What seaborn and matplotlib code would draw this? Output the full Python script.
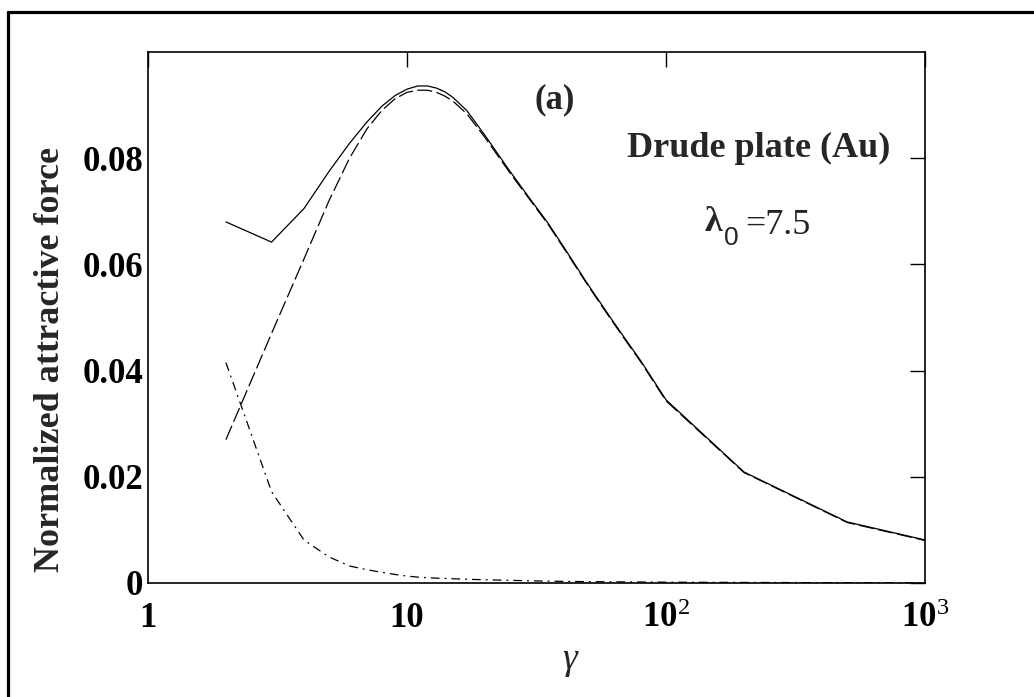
import numpy as np
import pandas as pd
import seaborn as sns
from matplotlib import pyplot as plt
from matplotlib.lines import Line2D

# values
gamma = [2, 3, 4, 5, 6, 7, 8, 9, 10, 11, 12, 13, 14, 15, 17, 20, 25, 30, 35, 40,
         50, 60, 70, 80, 100, 200, 500, 1000]
total_force = [0.0680, 0.0642, 0.0705, 0.0775, 0.0828, 0.0868, 0.0898, 0.0918, 0.0930, 0.0936,
               0.0936, 0.0932, 0.0925, 0.0915, 0.0890, 0.0843, 0.0775, 0.0722, 0.0678, 0.0635,
               0.0562, 0.0505, 0.0458, 0.0418, 0.0345, 0.0209, 0.0115, 0.0081]
dashed_force = [0.0270, 0.0470, 0.0610, 0.0720, 0.0800, 0.0855, 0.0890, 0.0912, 0.0924, 0.0928,
                0.0928, 0.0924, 0.0917, 0.0908, 0.0884, 0.0839, 0.0772, 0.0720, 0.0676, 0.0633,
                0.0560, 0.0503, 0.0456, 0.0416, 0.0343, 0.0208, 0.0114, 0.0080]
dashdot_force = [0.0415, 0.0172, 0.0081, 0.0049, 0.0032, 0.0025, 0.0020, 0.0016, 0.0013, 0.0011,
                 0.0010, 0.0009, 0.00085, 0.0008, 0.0007, 0.0006, 0.0005, 0.0004, 0.00035, 0.0003,
                 0.00025, 0.00022, 0.0002, 0.00018, 0.00015, 0.0001, 0.00005, 0.00003]

yticks = [0, 0.02, 0.04, 0.06, 0.08]
ytick_labels = ['0', '0.02', '0.04', '0.06', '0.08']
xticks = [1, 10, 100, 1000]
xtick_labels = ['1', '10', r'$\mathbf{10}^{\mathrm{2}}$', r'$\mathbf{10}^{\mathrm{3}}$']

df = pd.DataFrame({'gamma': gamma, 'total': total_force,
                   'dashed': dashed_force, 'dashdot': dashdot_force})

sns.set_style('white')
plt.rcParams['font.family'] = ['Liberation Serif', 'DejaVu Serif']
plt.rcParams['mathtext.fontset'] = 'custom'
plt.rcParams['mathtext.rm'] = 'Liberation Serif'
plt.rcParams['mathtext.bf'] = 'Liberation Serif:bold'
plt.rcParams['mathtext.it'] = 'Liberation Serif:italic'

fig = plt.figure(figsize=(10.34, 6.97), dpi=100)
ax = fig.add_axes([0.1431, 0.1636, 0.7515, 0.7618])

sns.lineplot(data=df, x='gamma', y='total', color='black', lw=0.9, ax=ax)
sns.lineplot(data=df, x='gamma', y='dashed', color='black', lw=0.9, ax=ax)
ax.lines[-1].set_dashes((12, 3.5))
sns.lineplot(data=df, x='gamma', y='dashdot', color='black', lw=0.9, ax=ax)
ax.lines[-1].set_dashes((7, 4, 1.5, 4))

ax.set_xscale('log')
ax.set_xlim(1, 1000)
ax.set_ylim(0, 0.1)
ax.set_xticks(xticks)
ax.set_xticklabels(xtick_labels)
ax.xaxis.set_minor_locator(plt.NullLocator())
ax.set_yticks(yticks)
ax.set_yticklabels(ytick_labels)

for s in ax.spines.values():
    s.set_visible(True)
    s.set_color('black')
    s.set_linewidth(1.2)

ax.tick_params(axis='both', direction='in', length=10.8, width=1, colors='black',
               top=True, right=True, labelsize=25)
ax.tick_params(axis='x', pad=14)
ax.tick_params(axis='y', pad=3.5)
for lab in ax.get_xticklabels() + ax.get_yticklabels():
    lab.set_fontweight('bold')

ax.set_ylabel('Normalized attractive force', fontsize=26, fontweight='bold', va='center')
ax.yaxis.set_label_coords(-0.126, 0.42)
ax.set_xlabel('γ', fontsize=27, fontstyle='italic', va='top')
ax.xaxis.set_label_coords(0.543, -0.113)

tr = ax.transAxes
ax.text(0.524, 0.91, '(a)', transform=tr, fontsize=25, fontweight='bold', ha='center', va='center')
ax.text(0.786, 0.819, 'Drude plate (Au)', transform=tr, fontsize=26, fontweight='bold',
        ha='center', va='center')
ax.text(0.728, 0.678, 'λ', transform=tr, fontsize=26, fontweight='bold', ha='center', va='center')
ax.text(0.751, 0.650, '0', transform=tr, fontsize=19, family='Liberation Sans',
        ha='center', va='center')
ax.text(0.811, 0.674, '=7.5', transform=tr, fontsize=26, color='#222222',
        ha='center', va='center')

# outer frame (left and top edges only)
fig.add_artist(Line2D([8 / 1034, 8 / 1034], [0, 1 - 12 / 697], transform=fig.transFigure,
                      color='black', lw=2.3))
fig.add_artist(Line2D([8 / 1034, 1], [1 - 12 / 697, 1 - 12 / 697], transform=fig.transFigure,
                      color='black', lw=2.3))

fig.savefig('out.png', dpi=100)
